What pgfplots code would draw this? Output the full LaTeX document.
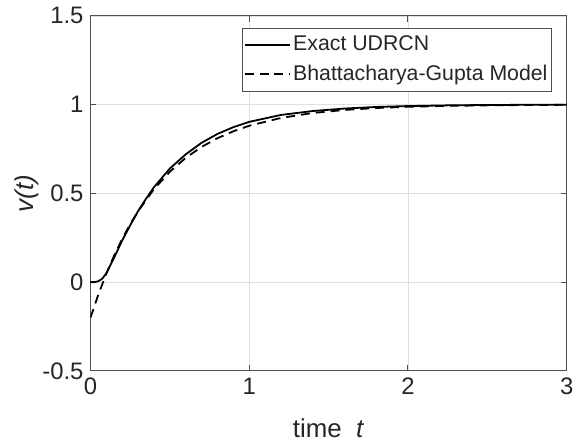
\documentclass[border=0pt]{standalone}
\usepackage{pgfplots}
\pgfplotsset{compat=1.18}
\usepackage{fontspec}
\setmainfont{Liberation Sans}
\definecolor{axgray}{HTML}{505050}
\definecolor{txt}{HTML}{262626}
\begin{document}
\begin{tikzpicture}
\begin{axis}[
    scale only axis, width=239.5pt, height=178.5pt,
    xmin=0, xmax=3, ymin=-0.5, ymax=1.5,
    xtick={0,1,2,3}, ytick={-0.5,0,0.5,1,1.5},
    /pgf/number format/assume math mode=true,
    ticklabel style={font=\fontsize{12}{14}\selectfont, text=txt},
    grid=major, major grid style={draw=gray!25, line width=0.4pt},
    axis line style={draw=axgray, line width=0.5pt},
    tick style={draw=axgray, line width=0.5pt}, tick align=inside,
    major tick length=3pt,
    xlabel={time\ \ \textit{t}}, ylabel={\textit{v(t)}},
    label style={font=\fontsize{13}{15}\selectfont, text=txt, inner sep=0pt},
    xlabel style={at={([yshift=-33.5pt]axis description cs:0.5,0)}, anchor=base},
    ylabel style={at={([xshift=-32pt]axis description cs:0,0.5)}, anchor=center},
    legend style={at={(rel axis cs:0.969,0.967)}, anchor=north east,
        font=\fontsize{10.7}{12}\selectfont, text=txt, draw=axgray,
        line width=0.5pt, inner xsep=0.8pt, inner ysep=2pt, row sep=1.5pt,
        nodes={inner xsep=1.2pt}},
    legend cell align=left,
    legend image code/.code={\draw[#1] (0cm,0cm) -- (0.8cm,0cm);},
]
\addplot[black, line width=0.9pt] coordinates {
 (0,0) (0.025,0.0) (0.05,0.005) (0.075,0.02) (0.1,0.05) (0.125,0.095)
 (0.15,0.14) (0.2,0.235) (0.25,0.32) (0.3,0.40) (0.35,0.47) (0.4,0.535)
 (0.5,0.64) (0.6,0.72) (0.7,0.785) (0.8,0.835) (0.9,0.873) (1.0,0.903)
 (1.2,0.942) (1.4,0.964) (1.6,0.978) (1.8,0.987) (2.0,0.992) (2.25,0.996)
 (2.5,0.998) (2.75,0.999) (3.0,1.0)};
\addlegendentry{Exact UDRCN}
\addplot[black, line width=0.9pt, dash pattern=on 4.5pt off 3pt] coordinates {
 (0,-0.2) (0.05,-0.069) (0.1,0.048) (0.15,0.151) (0.2,0.244) (0.25,0.326)
 (0.3,0.40) (0.4,0.524) (0.5,0.622) (0.6,0.70) (0.7,0.762) (0.8,0.811)
 (0.9,0.85) (1.0,0.881) (1.2,0.925) (1.4,0.953) (1.6,0.970) (1.8,0.981)
 (2.0,0.988) (2.25,0.993) (2.5,0.996) (2.75,0.998) (3.0,0.999)};
\addlegendentry{Bhattacharya-Gupta Model}
\end{axis}
\path (current axis.south west) +(-45.5pt,-37pt);
\path (current axis.north east) +(5pt,8pt);
\end{tikzpicture}
\end{document}
